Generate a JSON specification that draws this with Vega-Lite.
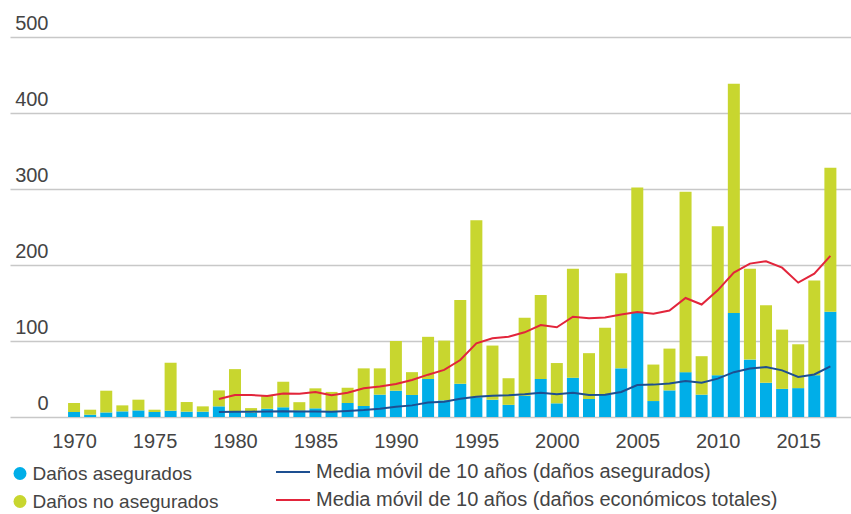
{
  "$schema": "https://vega.github.io/schema/vega-lite/v6.json",
  "width": 841,
  "height": 380,
  "autosize": {"type": "none"},
  "padding": {"left": 10, "top": 37, "right": 0, "bottom": 97},
  "config": {
    "view": {"stroke": null},
    "font": "Liberation Sans",
    "axis": {"labelColor": "#444444", "labelFont": "Liberation Sans", "labelFontSize": 20, "title": null},
    "legend": {"labelColor": "#444444", "labelFont": "Liberation Sans", "labelFontSize": 19, "padding": 0, "title": null, "labelLimit": 0}
  },
  "datasets": {
    "bars": [
      {"year": 1970, "serie": "Daños asegurados", "value": 6.6}, {"year": 1970, "serie": "Daños no asegurados", "value": 11.8},
      {"year": 1971, "serie": "Daños asegurados", "value": 3}, {"year": 1971, "serie": "Daños no asegurados", "value": 6.6},
      {"year": 1972, "serie": "Daños asegurados", "value": 6}, {"year": 1972, "serie": "Daños no asegurados", "value": 28.6},
      {"year": 1973, "serie": "Daños asegurados", "value": 7.4}, {"year": 1973, "serie": "Daños no asegurados", "value": 7.9},
      {"year": 1974, "serie": "Daños asegurados", "value": 8.7}, {"year": 1974, "serie": "Daños no asegurados", "value": 14.1},
      {"year": 1975, "serie": "Daños asegurados", "value": 6.6}, {"year": 1975, "serie": "Daños no asegurados", "value": 3},
      {"year": 1976, "serie": "Daños asegurados", "value": 8.3}, {"year": 1976, "serie": "Daños no asegurados", "value": 63.1},
      {"year": 1977, "serie": "Daños asegurados", "value": 7}, {"year": 1977, "serie": "Daños no asegurados", "value": 12.7},
      {"year": 1978, "serie": "Daños asegurados", "value": 7}, {"year": 1978, "serie": "Daños no asegurados", "value": 7},
      {"year": 1979, "serie": "Daños asegurados", "value": 14}, {"year": 1979, "serie": "Daños no asegurados", "value": 21},
      {"year": 1980, "serie": "Daños asegurados", "value": 7}, {"year": 1980, "serie": "Daños no asegurados", "value": 56},
      {"year": 1981, "serie": "Daños asegurados", "value": 6}, {"year": 1981, "serie": "Daños no asegurados", "value": 5.7},
      {"year": 1982, "serie": "Daños asegurados", "value": 11}, {"year": 1982, "serie": "Daños no asegurados", "value": 17},
      {"year": 1983, "serie": "Daños asegurados", "value": 12.8}, {"year": 1983, "serie": "Daños no asegurados", "value": 33.6},
      {"year": 1984, "serie": "Daños asegurados", "value": 8.5}, {"year": 1984, "serie": "Daños no asegurados", "value": 11},
      {"year": 1985, "serie": "Daños asegurados", "value": 11.4}, {"year": 1985, "serie": "Daños no asegurados", "value": 26.3},
      {"year": 1986, "serie": "Daños asegurados", "value": 8}, {"year": 1986, "serie": "Daños no asegurados", "value": 25},
      {"year": 1987, "serie": "Daños asegurados", "value": 18.4}, {"year": 1987, "serie": "Daños no asegurados", "value": 20.1},
      {"year": 1988, "serie": "Daños asegurados", "value": 14.5}, {"year": 1988, "serie": "Daños no asegurados", "value": 49.5},
      {"year": 1989, "serie": "Daños asegurados", "value": 29.4}, {"year": 1989, "serie": "Daños no asegurados", "value": 34.6},
      {"year": 1990, "serie": "Daños asegurados", "value": 34.6}, {"year": 1990, "serie": "Daños no asegurados", "value": 65.4},
      {"year": 1991, "serie": "Daños asegurados", "value": 29}, {"year": 1991, "serie": "Daños no asegurados", "value": 30},
      {"year": 1992, "serie": "Daños asegurados", "value": 50}, {"year": 1992, "serie": "Daños no asegurados", "value": 55.5},
      {"year": 1993, "serie": "Daños asegurados", "value": 22}, {"year": 1993, "serie": "Daños no asegurados", "value": 78.5},
      {"year": 1994, "serie": "Daños asegurados", "value": 43.7}, {"year": 1994, "serie": "Daños no asegurados", "value": 110.3},
      {"year": 1995, "serie": "Daños asegurados", "value": 26}, {"year": 1995, "serie": "Daños no asegurados", "value": 233},
      {"year": 1996, "serie": "Daños asegurados", "value": 22.7}, {"year": 1996, "serie": "Daños no asegurados", "value": 71.3},
      {"year": 1997, "serie": "Daños asegurados", "value": 16}, {"year": 1997, "serie": "Daños no asegurados", "value": 35},
      {"year": 1998, "serie": "Daños asegurados", "value": 28}, {"year": 1998, "serie": "Daños no asegurados", "value": 102.6},
      {"year": 1999, "serie": "Daños asegurados", "value": 50}, {"year": 1999, "serie": "Daños no asegurados", "value": 110.5},
      {"year": 2000, "serie": "Daños asegurados", "value": 18}, {"year": 2000, "serie": "Daños no asegurados", "value": 53},
      {"year": 2001, "serie": "Daños asegurados", "value": 51.7}, {"year": 2001, "serie": "Daños no asegurados", "value": 143.3},
      {"year": 2002, "serie": "Daños asegurados", "value": 23.7}, {"year": 2002, "serie": "Daños no asegurados", "value": 60.3},
      {"year": 2003, "serie": "Daños asegurados", "value": 29}, {"year": 2003, "serie": "Daños no asegurados", "value": 88.5},
      {"year": 2004, "serie": "Daños asegurados", "value": 64}, {"year": 2004, "serie": "Daños no asegurados", "value": 125},
      {"year": 2005, "serie": "Daños asegurados", "value": 137}, {"year": 2005, "serie": "Daños no asegurados", "value": 165},
      {"year": 2006, "serie": "Daños asegurados", "value": 21}, {"year": 2006, "serie": "Daños no asegurados", "value": 48},
      {"year": 2007, "serie": "Daños asegurados", "value": 35}, {"year": 2007, "serie": "Daños no asegurados", "value": 55},
      {"year": 2008, "serie": "Daños asegurados", "value": 59}, {"year": 2008, "serie": "Daños no asegurados", "value": 237.5},
      {"year": 2009, "serie": "Daños asegurados", "value": 29.4}, {"year": 2009, "serie": "Daños no asegurados", "value": 50.6},
      {"year": 2010, "serie": "Daños asegurados", "value": 55}, {"year": 2010, "serie": "Daños no asegurados", "value": 196},
      {"year": 2011, "serie": "Daños asegurados", "value": 137}, {"year": 2011, "serie": "Daños no asegurados", "value": 301.6},
      {"year": 2012, "serie": "Daños asegurados", "value": 75.5}, {"year": 2012, "serie": "Daños no asegurados", "value": 119.5},
      {"year": 2013, "serie": "Daños asegurados", "value": 45}, {"year": 2013, "serie": "Daños no asegurados", "value": 102},
      {"year": 2014, "serie": "Daños asegurados", "value": 37}, {"year": 2014, "serie": "Daños no asegurados", "value": 78},
      {"year": 2015, "serie": "Daños asegurados", "value": 38}, {"year": 2015, "serie": "Daños no asegurados", "value": 57.7},
      {"year": 2016, "serie": "Daños asegurados", "value": 55}, {"year": 2016, "serie": "Daños no asegurados", "value": 124.5},
      {"year": 2017, "serie": "Daños asegurados", "value": 138.5}, {"year": 2017, "serie": "Daños no asegurados", "value": 189.5}
    ],
    "lines": [
      {"year": 1979, "serie": "Media móvil de 10 años (daños asegurados)", "value": 6.6}, {"year": 1979, "serie": "Media móvil de 10 años (daños económicos totales)", "value": 23.6},
      {"year": 1980, "serie": "Media móvil de 10 años (daños asegurados)", "value": 7}, {"year": 1980, "serie": "Media móvil de 10 años (daños económicos totales)", "value": 29},
      {"year": 1981, "serie": "Media móvil de 10 años (daños asegurados)", "value": 7}, {"year": 1981, "serie": "Media móvil de 10 años (daños económicos totales)", "value": 29},
      {"year": 1982, "serie": "Media móvil de 10 años (daños asegurados)", "value": 7.3}, {"year": 1982, "serie": "Media móvil de 10 años (daños económicos totales)", "value": 27.5},
      {"year": 1983, "serie": "Media móvil de 10 años (daños asegurados)", "value": 7.6}, {"year": 1983, "serie": "Media móvil de 10 años (daños económicos totales)", "value": 31},
      {"year": 1984, "serie": "Media móvil de 10 años (daños asegurados)", "value": 7.3}, {"year": 1984, "serie": "Media móvil de 10 años (daños económicos totales)", "value": 30.5},
      {"year": 1985, "serie": "Media móvil de 10 años (daños asegurados)", "value": 7.4}, {"year": 1985, "serie": "Media móvil de 10 años (daños económicos totales)", "value": 33},
      {"year": 1986, "serie": "Media móvil de 10 años (daños asegurados)", "value": 7}, {"year": 1986, "serie": "Media móvil de 10 años (daños económicos totales)", "value": 28.5},
      {"year": 1987, "serie": "Media móvil de 10 años (daños asegurados)", "value": 8}, {"year": 1987, "serie": "Media móvil de 10 años (daños económicos totales)", "value": 32},
      {"year": 1988, "serie": "Media móvil de 10 años (daños asegurados)", "value": 9.2}, {"year": 1988, "serie": "Media móvil de 10 años (daños económicos totales)", "value": 37.7},
      {"year": 1989, "serie": "Media móvil de 10 años (daños asegurados)", "value": 11}, {"year": 1989, "serie": "Media móvil de 10 años (daños económicos totales)", "value": 40},
      {"year": 1990, "serie": "Media móvil de 10 años (daños asegurados)", "value": 13.6}, {"year": 1990, "serie": "Media móvil de 10 años (daños económicos totales)", "value": 43.4},
      {"year": 1991, "serie": "Media móvil de 10 años (daños asegurados)", "value": 15.3}, {"year": 1991, "serie": "Media móvil de 10 años (daños económicos totales)", "value": 48.7},
      {"year": 1992, "serie": "Media móvil de 10 años (daños asegurados)", "value": 19}, {"year": 1992, "serie": "Media móvil de 10 años (daños económicos totales)", "value": 55.7},
      {"year": 1993, "serie": "Media móvil de 10 años (daños asegurados)", "value": 20}, {"year": 1993, "serie": "Media móvil de 10 años (daños económicos totales)", "value": 62},
      {"year": 1994, "serie": "Media móvil de 10 años (daños asegurados)", "value": 24}, {"year": 1994, "serie": "Media móvil de 10 años (daños económicos totales)", "value": 75},
      {"year": 1995, "serie": "Media móvil de 10 años (daños asegurados)", "value": 26.7}, {"year": 1995, "serie": "Media móvil de 10 años (daños económicos totales)", "value": 97},
      {"year": 1996, "serie": "Media móvil de 10 años (daños asegurados)", "value": 28}, {"year": 1996, "serie": "Media móvil de 10 años (daños económicos totales)", "value": 103.5},
      {"year": 1997, "serie": "Media móvil de 10 años (daños asegurados)", "value": 28.5}, {"year": 1997, "serie": "Media móvil de 10 años (daños económicos totales)", "value": 105.7},
      {"year": 1998, "serie": "Media móvil de 10 años (daños asegurados)", "value": 29.8}, {"year": 1998, "serie": "Media móvil de 10 años (daños económicos totales)", "value": 111.4},
      {"year": 1999, "serie": "Media móvil de 10 años (daños asegurados)", "value": 32}, {"year": 1999, "serie": "Media móvil de 10 años (daños económicos totales)", "value": 121},
      {"year": 2000, "serie": "Media móvil de 10 años (daños asegurados)", "value": 30}, {"year": 2000, "serie": "Media móvil de 10 años (daños económicos totales)", "value": 118},
      {"year": 2001, "serie": "Media móvil de 10 años (daños asegurados)", "value": 32}, {"year": 2001, "serie": "Media móvil de 10 años (daños económicos totales)", "value": 132},
      {"year": 2002, "serie": "Media móvil de 10 años (daños asegurados)", "value": 29}, {"year": 2002, "serie": "Media móvil de 10 años (daños económicos totales)", "value": 130},
      {"year": 2003, "serie": "Media móvil de 10 años (daños asegurados)", "value": 29.4}, {"year": 2003, "serie": "Media móvil de 10 años (daños económicos totales)", "value": 131},
      {"year": 2004, "serie": "Media móvil de 10 años (daños asegurados)", "value": 33}, {"year": 2004, "serie": "Media móvil de 10 años (daños económicos totales)", "value": 135},
      {"year": 2005, "serie": "Media móvil de 10 años (daños asegurados)", "value": 42}, {"year": 2005, "serie": "Media móvil de 10 años (daños económicos totales)", "value": 138},
      {"year": 2006, "serie": "Media móvil de 10 años (daños asegurados)", "value": 42.6}, {"year": 2006, "serie": "Media móvil de 10 años (daños económicos totales)", "value": 136},
      {"year": 2007, "serie": "Media móvil de 10 años (daños asegurados)", "value": 44}, {"year": 2007, "serie": "Media móvil de 10 años (daños económicos totales)", "value": 140},
      {"year": 2008, "serie": "Media móvil de 10 años (daños asegurados)", "value": 47.4}, {"year": 2008, "serie": "Media móvil de 10 años (daños económicos totales)", "value": 156.6},
      {"year": 2009, "serie": "Media móvil de 10 años (daños asegurados)", "value": 45}, {"year": 2009, "serie": "Media móvil de 10 años (daños económicos totales)", "value": 148},
      {"year": 2010, "serie": "Media móvil de 10 años (daños asegurados)", "value": 50.5}, {"year": 2010, "serie": "Media móvil de 10 años (daños económicos totales)", "value": 166.7},
      {"year": 2011, "serie": "Media móvil de 10 años (daños asegurados)", "value": 59}, {"year": 2011, "serie": "Media móvil de 10 años (daños económicos totales)", "value": 190},
      {"year": 2012, "serie": "Media móvil de 10 años (daños asegurados)", "value": 63.7}, {"year": 2012, "serie": "Media móvil de 10 años (daños económicos totales)", "value": 201.8},
      {"year": 2013, "serie": "Media móvil de 10 años (daños asegurados)", "value": 65.8}, {"year": 2013, "serie": "Media móvil de 10 años (daños económicos totales)", "value": 205},
      {"year": 2014, "serie": "Media móvil de 10 años (daños asegurados)", "value": 61.4}, {"year": 2014, "serie": "Media móvil de 10 años (daños económicos totales)", "value": 196.5},
      {"year": 2015, "serie": "Media móvil de 10 años (daños asegurados)", "value": 52.6}, {"year": 2015, "serie": "Media móvil de 10 años (daños económicos totales)", "value": 176.8},
      {"year": 2016, "serie": "Media móvil de 10 años (daños asegurados)", "value": 56}, {"year": 2016, "serie": "Media móvil de 10 años (daños económicos totales)", "value": 188.6},
      {"year": 2017, "serie": "Media móvil de 10 años (daños asegurados)", "value": 66.7}, {"year": 2017, "serie": "Media móvil de 10 años (daños económicos totales)", "value": 212}
    ]
  },
  "layer": [
    {
      "data": {"name": "bars"},
      "mark": {"type": "bar", "size": 12},
      "encoding": {
        "x": {
          "field": "year", "type": "quantitative",
          "scale": {"domain": [1966.33, 2017.97], "nice": false, "zero": false},
          "axis": {"values": [1970, 1975, 1980, 1985, 1990, 1995, 2000, 2005, 2010, 2015], "format": "d", "grid": false, "domain": false, "ticks": false, "tickSize": 0, "labelPadding": 14, "labelBaseline": "top", "labelFlush": false, "labelOverlap": false}
        },
        "y": {
          "field": "value", "type": "quantitative", "stack": "zero",
          "scale": {"domain": [0, 500], "nice": false},
          "axis": {"values": [0, 100, 200, 300, 400, 500], "domain": false, "ticks": false, "tickSize": 0, "grid": true, "gridColor": "#c8c8c8", "gridWidth": 1.5, "labelAlign": "right", "labelPadding": -38, "labelBaseline": "alphabetic", "labelOffset": -8, "labelFlush": false}
        },
        "order": {"field": "serie", "sort": "ascending"},
        "color": {
          "field": "serie", "type": "nominal",
          "scale": {"domain": ["Daños asegurados", "Daños no asegurados"], "range": ["#00aee8", "#c8d62f"]},
          "legend": {"orient": "none", "legendX": 0.5, "legendY": 427, "symbolType": "circle", "symbolSize": 169, "symbolStrokeWidth": 0, "rowPadding": 8, "labelOffset": 3}
        }
      }
    },
    {
      "data": {"name": "lines"},
      "mark": {"type": "line", "strokeWidth": 2},
      "encoding": {
        "x": {"field": "year", "type": "quantitative"},
        "y": {"field": "value", "type": "quantitative"},
        "color": {
          "field": "serie", "type": "nominal",
          "scale": {"domain": ["Media móvil de 10 años (daños asegurados)", "Media móvil de 10 años (daños económicos totales)"], "range": ["#1d4f91", "#e2253b"]},
          "legend": {"orient": "none", "legendX": 265, "legendY": 417, "symbolType": "stroke", "symbolSize": 1156, "symbolStrokeWidth": 2, "rowPadding": -6, "labelOffset": 5, "labelFontSize": 20}
        }
      }
    }
  ],
  "resolve": {"scale": {"color": "independent"}}
}
